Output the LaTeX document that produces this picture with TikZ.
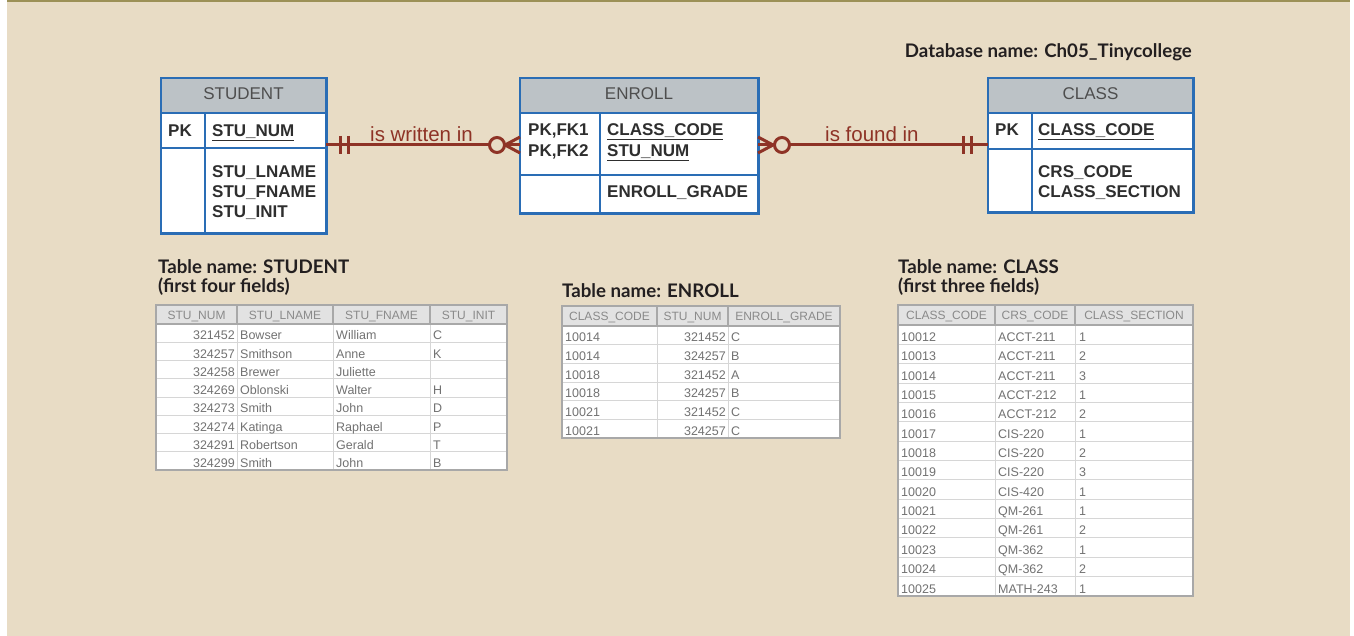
\documentclass[tikz,border=0pt]{standalone}
\usepackage{fontspec}
\setmainfont{Liberation Sans}
\newfontfamily\tabcapfont{Lato}
\usepackage{tikz}
\usetikzlibrary{positioning,calc}
\definecolor{paper}{HTML}{E8DCC5}
\definecolor{toprule}{HTML}{9C9157}
\definecolor{entblue}{HTML}{2A6DB5}
\definecolor{enthead}{HTML}{BCC2C6}
\definecolor{entink}{HTML}{2E2E2E}
\definecolor{enttitle}{HTML}{4E4E4E}
\definecolor{relred}{HTML}{8E3326}
\definecolor{ink}{HTML}{231F20}
\definecolor{cellink}{HTML}{727272}
\definecolor{headink}{HTML}{8A8A8A}
\definecolor{headfill}{HTML}{E2E2E2}
\definecolor{gridgray}{HTML}{D6D6D6}
\definecolor{framegray}{HTML}{A8A8A8}

\begin{document}
\begin{tikzpicture}[x=1pt,y=-1pt,
 entbox/.style={fill=white,inner sep=0pt,anchor=north west},
 entline/.style={draw=entblue,line width=2.5pt},
 entfield/.style={font=\fontsize{17}{20}\selectfont\bfseries,text=entink,anchor=base west,inner sep=0pt},
 entname/.style={font=\fontsize{17}{20}\selectfont,text=enttitle,anchor=base,inner sep=0pt},
 reltie/.style={draw=relred,line width=3pt},
 rellabel/.style={font=\fontsize{20.5}{23}\selectfont,text=relred,anchor=base west,inner sep=0pt},
 tabcap/.style={font=\tabcapfont\bfseries\fontsize{18.7}{22}\selectfont,text=ink,anchor=base west,inner sep=0pt},
 tabhead/.style={font=\fontsize{12}{14}\selectfont,text=headink,anchor=base,inner sep=0pt},
 tabcell/.style={font=\fontsize{12.5}{14}\selectfont,text=cellink,anchor=base west,inner sep=0pt},
 tabgrid/.style={draw=gridgray,line width=1pt},
 tabframe/.style={draw=framegray,line width=1.2pt}]
 \useasboundingbox (0,0) rectangle (1354,636);
 \fill[white] (0,0) rectangle (1354,636);
 \fill[paper] (7,0) rectangle (1350,636);
 \fill[toprule] (7,0) rectangle (1350,2);

 \node[tabcap,anchor=base east] (dbname) at (1192,58) {Database name: Ch05\_Tinycollege};

 % entities
 \node[entbox,minimum width=165pt,minimum height=155pt] (student) at (161,78) {};
 \fill[enthead] (161,78) rectangle (326,113);
 \draw[entline] (student.north west) rectangle (student.south east)
  (161,113) -- (326,113) (161,148) -- (326,148) (205,113) -- (205,233);
 \node[entname] (stu-name) at (243.5,100) {STUDENT};
 \node[entfield] (stu-pk) at (168,137) {PK};
 \node[entfield] (stu-num) at (212,137) {\underline{STU\_NUM}};
 \node[entfield] (stu-lname) at (212,178) {STU\_LNAME};
 \node[entfield] (stu-fname) at (212,198) {STU\_FNAME};
 \node[entfield] (stu-init) at (212,218) {STU\_INIT};

 \node[entbox,minimum width=238pt,minimum height=135pt] (enroll) at (520,78) {};
 \fill[enthead] (520,78) rectangle (758,113);
 \draw[entline] (enroll.north west) rectangle (enroll.south east)
  (520,113) -- (758,113) (520,175) -- (758,175) (600,113) -- (600,212);
 \node[entname] (enr-name) at (639,100) {ENROLL};
 \node[entfield] (enr-pk1) at (528,136) {PK,FK1};
 \node[entfield] (enr-pk2) at (528,157) {PK,FK2};
 \node[entfield] (enr-code) at (607,136) {\underline{CLASS\_CODE}};
 \node[entfield] (enr-num) at (607,157) {\underline{STU\_NUM}};
 \node[entfield] (enr-grade) at (607,198) {ENROLL\_GRADE};

 \node[entbox,minimum width=205pt,minimum height=134pt] (class) at (988,78) {};
 \fill[enthead] (988,78) rectangle (1193,113);
 \draw[entline] (class.north west) rectangle (class.south east)
  (988,113) -- (1193,113) (988,149) -- (1193,149) (1032,113) -- (1032,212);
 \node[entname] (cls-name) at (1090.5,100) {CLASS};
 \node[entfield] (cls-pk) at (995,136) {PK};
 \node[entfield] (cls-code) at (1038,136) {\underline{CLASS\_CODE}};
 \node[entfield] (cls-crs) at (1038,178) {CRS\_CODE};
 \node[entfield] (cls-sec) at (1038,198) {CLASS\_SECTION};

 % relationships
 \coordinate (link) at (0,145);
 \draw[reltie] (student.east |- link) -- (enroll.west |- link);
 \draw[reltie] (enroll.east |- link) -- (class.west |- link);
 \draw[reltie] (340,136) -- (340,154) (348,136) -- (348,154);
 \draw[reltie] (505,145) -- (520,137) (505,145) -- (520,153);
 \draw[reltie,fill=paper] (497,145) circle (7.5);
 \draw[reltie] (773,145) -- (758,137) (773,145) -- (758,153);
 \draw[reltie,fill=paper] (782,145) circle (7.5);
 \draw[reltie] (963,136) -- (963,154) (971,136) -- (971,154);
 \node[rellabel] (written) at (370,142) {is written in};
 \node[rellabel] (found) at (825,142) {is found in};

 % STUDENT rows
 \node[tabcap] (stu-cap1) at (158,274) {Table name: STUDENT};
 \node[tabcap] (stu-cap2) at (158,293) {(first four fields)};
 \fill[white] (156,305) rectangle (507,470);
 \fill[headfill] (156,305) rectangle (507,324);
 \foreach \r in {1,...,7} \draw[tabgrid] (156,{324+18.25*\r}) -- (507,{324+18.25*\r});
 \draw[tabgrid] (237,324) -- (237,470) (333,324) -- (333,470) (430,324) -- (430,470);
 \draw[tabframe] (156,305) rectangle (507,470) (156,324) -- (507,324)
  (237,305) -- (237,324) (333,305) -- (333,324) (430,305) -- (430,324);
 \node[tabhead] (stu-h1) at (196.5,319) {STU\_NUM};
 \node[tabhead] (stu-h2) at (285,319) {STU\_LNAME};
 \node[tabhead] (stu-h3) at (381.5,319) {STU\_FNAME};
 \node[tabhead] (stu-h4) at (468.5,319) {STU\_INIT};
 \foreach \n/\l/\f/\i [count=\r] in {321452/Bowser/William/C,324257/Smithson/Anne/K,
   324258/Brewer/Juliette/{},324269/Oblonski/Walter/H,324273/Smith/John/D,
   324274/Katinga/Raphael/P,324291/Robertson/Gerald/T,324299/Smith/John/B} {
  \node[tabcell,anchor=base east] (stu-n\r) at (235,{321.5+18.25*\r}) {\n};
  \node[tabcell] (stu-l\r) at (240,{321.5+18.25*\r}) {\l};
  \node[tabcell] (stu-f\r) at (336,{321.5+18.25*\r}) {\f};
  \node[tabcell] (stu-i\r) at (433,{321.5+18.25*\r}) {\i};
 }

 % ENROLL rows
 \node[tabcap] (enr-cap) at (562,298) {Table name: ENROLL};
 \fill[white] (562,306) rectangle (840,438);
 \fill[headfill] (562,306) rectangle (840,326);
 \foreach \r in {1,...,5} \draw[tabgrid] (562,{326+18.667*\r}) -- (840,{326+18.667*\r});
 \draw[tabgrid] (657,326) -- (657,438) (728,326) -- (728,438);
 \draw[tabframe] (562,306) rectangle (840,438) (562,326) -- (840,326)
  (657,306) -- (657,326) (728,306) -- (728,326);
 \node[tabhead] (enr-h1) at (609.5,320.5) {CLASS\_CODE};
 \node[tabhead] (enr-h2) at (692.5,320.5) {STU\_NUM};
 \node[tabhead] (enr-h3) at (784,320.5) {ENROLL\_GRADE};
 \foreach \c/\n/\g [count=\r] in {10014/321452/C,10014/324257/B,10018/321452/A,
   10018/324257/B,10021/321452/C,10021/324257/C} {
  \node[tabcell] (enr-c\r) at (565,{323+18.667*\r}) {\c};
  \node[tabcell,anchor=base east] (enr-n\r) at (726,{323+18.667*\r}) {\n};
  \node[tabcell] (enr-g\r) at (731,{323+18.667*\r}) {\g};
 }

 % CLASS rows
 \node[tabcap] (cls-cap1) at (898,274) {Table name: CLASS};
 \node[tabcap] (cls-cap2) at (898,293) {(first three fields)};
 \fill[white] (898,305) rectangle (1193,596);
 \fill[headfill] (898,305) rectangle (1193,325);
 \foreach \r in {1,...,13} \draw[tabgrid] (898,{325+19.357*\r}) -- (1193,{325+19.357*\r});
 \draw[tabgrid] (995,325) -- (995,596) (1075,325) -- (1075,596);
 \draw[tabframe] (898,305) rectangle (1193,596) (898,325) -- (1193,325)
  (995,305) -- (995,325) (1075,305) -- (1075,325);
 \node[tabhead] (cls-h1) at (946.5,319.5) {CLASS\_CODE};
 \node[tabhead] (cls-h2) at (1035,319.5) {CRS\_CODE};
 \node[tabhead] (cls-h3) at (1134,319.5) {CLASS\_SECTION};
 \foreach \c/\k/\s [count=\r] in {10012/ACCT-211/1,10013/ACCT-211/2,10014/ACCT-211/3,
   10015/ACCT-212/1,10016/ACCT-212/2,10017/CIS-220/1,10018/CIS-220/2,10019/CIS-220/3,
   10020/CIS-420/1,10021/QM-261/1,10022/QM-261/2,10023/QM-362/1,10024/QM-362/2,
   10025/MATH-243/1} {
  \node[tabcell] (cls-c\r) at (901,{322+19.357*\r}) {\c};
  \node[tabcell] (cls-k\r) at (998,{322+19.357*\r}) {\k};
  \node[tabcell] (cls-s\r) at (1079,{322+19.357*\r}) {\s};
 }
\end{tikzpicture}
\end{document}
